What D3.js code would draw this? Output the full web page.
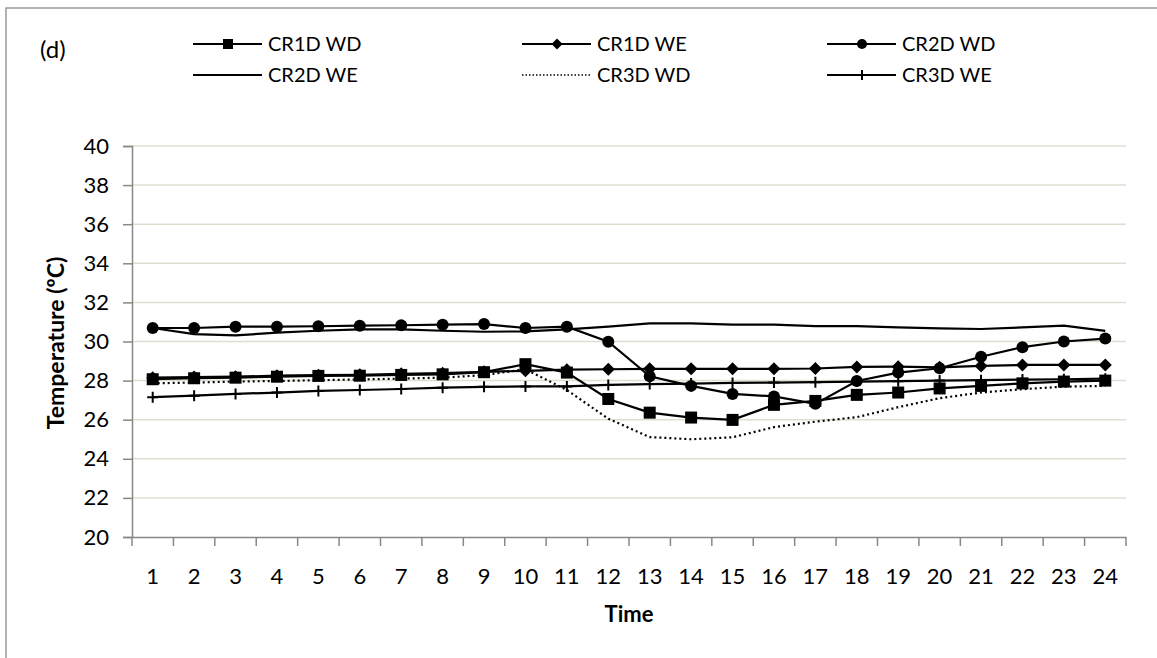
<!DOCTYPE html>
<html>
<head>
<meta charset="utf-8">
<script src="https://cdn.jsdelivr.net/npm/d3@7"></script>
<style>
  body { margin: 0; background: #fff; }
  svg text { font-family: Lato, "Open Sans", sans-serif; fill: #000; }
</style>
</head>
<body>
<div class="chart"></div>
<script>
const hours = d3.range(1, 25);
const yTicks = [20, 22, 24, 26, 28, 30, 32, 34, 36, 38, 40];

const cr1dWD = [28.07, 28.12, 28.15, 28.2, 28.24, 28.25, 28.29, 28.32, 28.43, 28.84, 28.41, 27.06,
                26.36, 26.11, 25.99, 26.76, 26.96, 27.27, 27.39, 27.6, 27.73, 27.86, 27.95, 28.0];
const cr1dWE = [28.15, 28.18, 28.2, 28.25, 28.28, 28.3, 28.35, 28.38, 28.45, 28.5, 28.56, 28.58,
                28.6, 28.6, 28.6, 28.6, 28.62, 28.7, 28.71, 28.68, 28.75, 28.8, 28.8, 28.8];
const cr2dWD = [30.69, 30.69, 30.76, 30.76, 30.78, 30.81, 30.83, 30.86, 30.89, 30.69, 30.76, 29.99,
                28.22, 27.73, 27.32, 27.19, 26.81, 27.98, 28.41, 28.63, 29.22, 29.71, 30.0, 30.15];
const cr2dWE = [30.69, 30.38, 30.31, 30.45, 30.55, 30.62, 30.62, 30.55, 30.5, 30.52, 30.62, 30.76,
                30.93, 30.93, 30.86, 30.86, 30.79, 30.79, 30.72, 30.67, 30.64, 30.72, 30.81, 30.54];
const cr3dWD = [27.86, 27.9, 27.95, 27.98, 28.02, 28.06, 28.1, 28.15, 28.28, 28.58, 27.52, 26.05,
                25.11, 25.0, 25.1, 25.62, 25.9, 26.13, 26.64, 27.1, 27.39, 27.56, 27.69, 27.73];
const cr3dWE = [27.15, 27.23, 27.32, 27.39, 27.47, 27.52, 27.57, 27.64, 27.68, 27.7, 27.7, 27.78,
                27.82, 27.85, 27.88, 27.9, 27.92, 27.95, 27.97, 28.0, 28.02, 28.05, 28.07, 28.1];

const seriesNames = ['CR1D WD', 'CR1D WE', 'CR2D WD', 'CR2D WE', 'CR3D WD', 'CR3D WE'];
const seriesValues = [cr1dWD, cr1dWE, cr2dWD, cr2dWE, cr3dWD, cr3dWE];
const seriesMarkers = ['square', 'diamond', 'circle', 'none', 'none', 'plus'];

const width = 1157;
const height = 658;
const margin = { top: 146, right: 31, bottom: 121, left: 132 };

const svg = d3.select('.chart')
  .append('svg')
  .attr('width', width)
  .attr('height', height);

// outer frame (only top and left edges show)
svg.append('path')
  .attr('d', 'M6,' + height + ' V8 H' + width)
  .attr('fill', 'none')
  .attr('stroke', '#9a9a9a')
  .attr('stroke-width', 1.5);

const g = svg.append('g')
  .attr('transform', 'translate(' + margin.left + ',' + margin.top + ')');

const w = width - margin.left - margin.right;
const h = height - margin.top - margin.bottom;

const xScale = d3.scaleBand()
  .domain(hours)
  .range([0, w]);

const yScale = d3.scaleLinear()
  .domain([20, 40])
  .range([h, 0]);

const cx = d => xScale(d) + xScale.bandwidth() / 2;

// gridlines
g.selectAll('.grid')
  .data(yTicks.slice(1))
  .enter()
  .append('line')
  .attr('class', 'grid')
  .attr('x1', 0)
  .attr('x2', w)
  .attr('y1', d => yScale(d))
  .attr('y2', d => yScale(d))
  .attr('stroke', '#e0ddd0')
  .attr('stroke-width', 1.5);

const yAxis = d3.axisLeft(yScale).tickValues(yTicks).tickSize(9).tickPadding(14);
g.append('g')
  .attr('class', 'y-axis')
  .call(yAxis)
  .call(s => s.select('.domain').attr('stroke', '#888').attr('stroke-width', 1.5))
  .call(s => s.selectAll('line').attr('stroke', '#888').attr('stroke-width', 1.5))
  .call(s => s.selectAll('text').attr('font-size', 22).style('font-family', 'Lato'));

const xAxis = d3.axisBottom(xScale).tickSize(0).tickPadding(31);
const xg = g.append('g')
  .attr('class', 'x-axis')
  .attr('transform', 'translate(0,' + h + ')')
  .call(xAxis)
  .call(s => s.select('.domain').attr('stroke', '#888').attr('stroke-width', 1.5))
  .call(s => s.selectAll('text').attr('font-size', 22).style('font-family', 'Lato'));

// tick marks at category boundaries
xg.selectAll('.bound')
  .data(hours.concat([25]))
  .enter()
  .append('line')
  .attr('x1', d => d === 25 ? w : xScale(d))
  .attr('x2', d => d === 25 ? w : xScale(d))
  .attr('y1', 0)
  .attr('y2', 9)
  .attr('stroke', '#888')
  .attr('stroke-width', 1.5);

// axis titles
svg.append('text')
  .attr('x', margin.left + w / 2)
  .attr('y', 622)
  .attr('text-anchor', 'middle')
  .attr('font-size', 22)
  .attr('font-weight', 'bold')
  .text('Time');

svg.append('text')
  .attr('transform', 'translate(64,343) rotate(-90)')
  .attr('text-anchor', 'middle')
  .attr('font-size', 23)
  .attr('font-weight', 'bold')
  .text('Temperature (ºC)');

svg.append('text')
  .attr('x', 40)
  .attr('y', 58)
  .attr('font-size', 24)
  .text('(d)');

function drawMarker(sel, type, s) {
  if (type === 'square') {
    sel.append('rect')
      .attr('x', -s / 2).attr('y', -s / 2)
      .attr('width', s).attr('height', s)
      .attr('fill', '#000');
  } else if (type === 'circle') {
    sel.append('circle').attr('r', s / 2).attr('fill', '#000');
  } else if (type === 'diamond') {
    const r = s / 2 + 0.5;
    sel.append('path')
      .attr('d', 'M0,' + (-r) + 'L' + r + ',0L0,' + r + 'L' + (-r) + ',0Z')
      .attr('fill', '#000');
  } else if (type === 'plus') {
    const r = s / 2;
    sel.append('path')
      .attr('d', 'M0,' + (-r) + 'V' + r + 'M' + (-r) + ',0H' + r)
      .attr('stroke', '#000')
      .attr('stroke-width', 2);
  }
}

const line = d3.line()
  .x((d, i) => cx(hours[i]))
  .y(d => yScale(d));

seriesValues.forEach((vals, k) => {
  g.append('path')
    .datum(vals)
    .attr('fill', 'none')
    .attr('stroke', '#000')
    .attr('stroke-width', 2.2)
    .attr('stroke-dasharray', k === 4 ? '2,3' : null)
    .attr('d', line);

  if (seriesMarkers[k] !== 'none') {
    g.selectAll('.m' + k)
      .data(vals)
      .enter()
      .append('g')
      .attr('class', 'm' + k)
      .attr('transform', (d, i) => 'translate(' + cx(hours[i]) + ',' + yScale(d) + ')')
      .each(function () { drawMarker(d3.select(this), seriesMarkers[k], seriesMarkers[k] === 'plus' ? 11 : 12); });
  }
});

// legend
const legX = [193, 522, 827];
const legY = [44, 75];
seriesNames.forEach((name, k) => {
  const col = k % 3;
  const row = Math.floor(k / 3);
  const lg = svg.append('g')
    .attr('transform', 'translate(' + legX[col] + ',' + legY[row] + ')');
  lg.append('line')
    .attr('x1', 0).attr('x2', 69)
    .attr('y1', 0).attr('y2', 0)
    .attr('stroke', '#000')
    .attr('stroke-width', k === 4 ? 1.5 : 2)
    .attr('stroke-dasharray', k === 4 ? '1.5,2' : null);
  if (seriesMarkers[k] !== 'none') {
    const mg = lg.append('g').attr('transform', 'translate(35,0)');
    drawMarker(mg, seriesMarkers[k], 10);
  }
  lg.append('text')
    .attr('x', 75)
    .attr('y', 7)
    .attr('font-size', 20)
    .text(name);
});
</script>
</body>
</html>
